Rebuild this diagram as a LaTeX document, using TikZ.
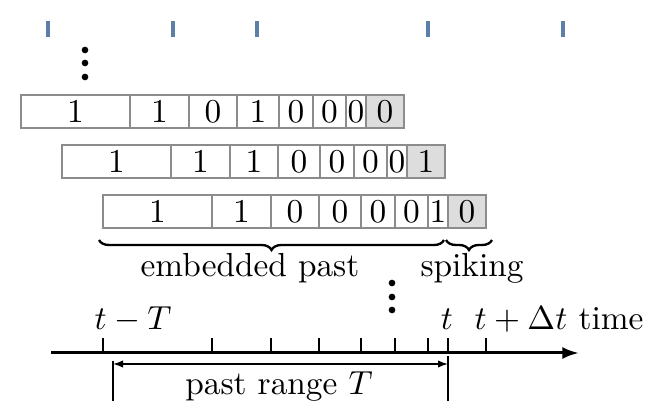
\documentclass[tikz,border=0pt]{standalone}
\usetikzlibrary{decorations.pathreplacing,arrows.meta}
\definecolor{spikeblue}{HTML}{5B7FA6}
\definecolor{binline}{HTML}{8C8C8C}
\definecolor{spikecell}{HTML}{DDDDDD}

% one row of the binned spike train: #1 name, #2 shift to the left,
% #3 top edge, #4 the eight bin values (the last one is the spiking bin)
\newcommand{\binrow}[4]{%
  \foreach \d [count=\k] in {#4} {
    \pgfmathsetmacro\xl{{103,212,271,319,361,395,428,448}[\k-1]-#2}
    \pgfmathsetmacro\xr{{212,271,319,361,395,428,448,486}[\k-1]-#2}
    \ifnum\k=8 \def\binfill{spikecell}\else\def\binfill{white}\fi
    \draw[bin, fill=\binfill] (\xl,#3) rectangle (\xr,#3+33);
    \node[digit] (#1-\k) at ({(\xl+\xr)/2},#3+16.5) {\d};
  }
  \draw[rowframe] (103-#2,#3) rectangle (486-#2,#3+33);
}

\begin{document}
\begin{tikzpicture}[x=0.3pt,y=-0.3pt,
  spike/.style={spikeblue, line width=1pt},
  bin/.style={draw=binline, line width=0.5pt},
  rowframe/.style={draw=binline, line width=0.8pt},
  digit/.style={inner sep=0pt},
  dot/.style={circle, fill=black, inner sep=0pt, minimum size=2pt},
  tickmark/.style={line width=0.7pt},
  timeaxis/.style={line width=0.9pt, -{Latex[length=5pt,width=3.6pt]}},
  rangearrow/.style={line width=0.4pt, {Latex[length=3pt,width=2.2pt]}-{Latex[length=3pt,width=2.2pt]}},
  guide/.style={line width=0.4pt},
  bracket/.style={decorate, decoration={brace, mirror, amplitude=3pt}, line width=0.7pt},
  label/.style={anchor=base, inner sep=0pt}
]
\useasboundingbox (0,0) rectangle (645,401);

% spike train
\foreach \x [count=\k] in {48,173,257,428,563}
  \draw[spike] (\x,21) coordinate (spike\k) -- (\x,37);

% vertical ellipsis above the rows
\foreach \y [count=\k] in {50,63,77}
  \node[dot] (topdot\k) at (85,\y) {};

% binned rows, each shifted by one time step
\binrow{rowA}{82}{95}{1,1,0,1,0,0,0,0}
\binrow{rowB}{41}{145}{1,1,1,0,0,0,0,1}
\binrow{rowC}{0}{195}{1,1,0,0,0,0,1,0}

% braces under the last row
\coordinate (pastL) at (99,240);
\coordinate (pastR) at (444,240);
\coordinate (spkL) at (446,240);
\coordinate (spkR) at (492,240);
\draw[bracket] (pastL) -- (pastR);
\draw[bracket] (spkL) -- (spkR);
\node[label] (embedlabel) at (250,277) {embedded past};
\node[label] (spikelabel) at (472,277) {spiking};

% vertical ellipsis above the axis
\foreach \y [count=\k] in {283,297,310}
  \node[dot] (axisdot\k) at (392,\y) {};

% time axis with bin edges
\coordinate (axisstart) at (51,353);
\coordinate (axisend) at (579,353);
\draw[timeaxis] (axisstart) -- (axisend);
\foreach \x [count=\k] in {103,212,271,319,361,395,428,448,486}
  \draw[tickmark] (\x,353) -- (\x,338) coordinate (edge\k);

\node[label] (tminusT) at (133,330) {$t-T$};
\node[label] (tnow) at (447,330) {$t$};
\node[label] (tnext) at (521,330) {$t+\Delta t$};
\node[anchor=base east, inner sep=0pt] (timelabel) at (644,330) {time};

% past range
\coordinate (rangeL) at (113,364);
\coordinate (rangeR) at (448,364);
\draw[guide] (113,361) -- (113,402);
\draw[guide] (448,356) -- (448,402);
\draw[rangearrow] (rangeL) -- (rangeR);
\node[label] (rangelabel) at (279,395) {past range $T$};
\end{tikzpicture}
\end{document}
